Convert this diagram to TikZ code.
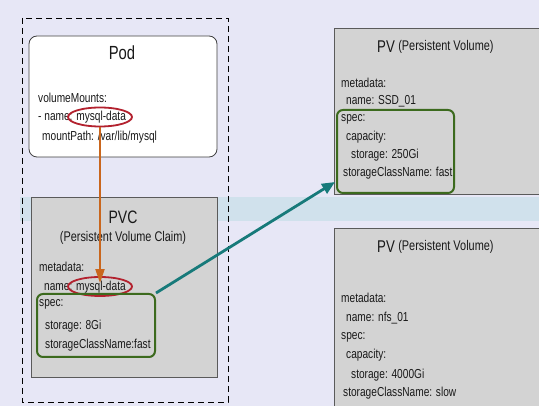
\documentclass[tikz,border=0pt]{standalone}
\usepackage{fontspec}
\setmainfont[FakeStretch=0.78]{Liberation Sans}
\usetikzlibrary{arrows.meta,shapes.geometric}
\definecolor{bgc}{HTML}{E7E7F6}
\definecolor{bandc}{HTML}{D0E1EC}
\definecolor{boxgray}{HTML}{D3D3D3}
\definecolor{boxline}{HTML}{5A5A5A}
\definecolor{orangec}{HTML}{C9661D}
\definecolor{redc}{HTML}{B3212E}
\definecolor{greenc}{HTML}{3C6A1E}
\definecolor{tealc}{HTML}{177A7A}
\tikzset{
  txt/.style={anchor=west,inner sep=0pt,font=\fontsize{13}{15}\selectfont,text=black!90},
  graybox/.style={draw=boxline,fill=boxgray,line width=0.8pt,inner sep=0pt},
  podbox/.style={draw=black!75,fill=white,rounded corners=8pt,line width=0.8pt,inner sep=0pt},
  titlebig/.style={inner sep=0pt,font=\fontsize{19}{22}\selectfont,text=black!90},
  titlesub/.style={inner sep=0pt,font=\fontsize{14}{16}\selectfont,text=black!90},
  redring/.style={draw=redc,ellipse,line width=1.8pt,inner sep=0pt},
  specbox/.style={draw=greenc,rounded corners=6pt,line width=2pt,inner sep=0pt},
  dashframe/.style={draw=black,dash pattern=on 6pt off 4pt,line width=0.8pt}
}
\begin{document}
\begin{tikzpicture}[x=1pt,y=-1pt]
\useasboundingbox (0,0) rectangle (539,406);
\clip (0,0) rectangle (539,406);
\fill[bgc] (0,0) rectangle (539,406);
\fill[bandc] (20,197) rectangle (539,221);
% dashed frame
\draw[dashframe] (22,18) rectangle (228,402);
% Pod
\node[podbox,minimum width=188pt,minimum height=121pt] (pod) at (123,96.5) {};
\node[titlebig] (podtitle) at (122,53) {Pod};
\node[txt] (pod1) at (38,98) {volumeMounts:};
\node[txt] (pod2) at (38,117) {- name: mysql-data};
\node[txt] (pod3) at (42,137) {mountPath: /var/lib/mysql};
\node[redring,minimum width=64pt,minimum height=19pt] (podname) at (100,117) {};
% PVC
\node[graybox,minimum width=186pt,minimum height=180pt] (pvc) at (124,287) {};
\node[titlebig,font=\fontsize{18}{21}\selectfont] (pvctitle) at (123,217) {PVC};
\node[titlesub] (pvcsub) at (123,238) {(Persistent Volume Claim)};
\node[txt] (pvc1) at (39,267) {metadata:};
\node[txt] (pvc2) at (44,287) {name: mysql-data};
\node[txt] (pvc3) at (39,304) {spec:};
\node[txt] (pvc4) at (45,326) {storage: 8Gi};
\node[txt] (pvc5) at (45,345) {storageClassName:fast};
\node[redring,minimum width=64pt,minimum height=19pt] (pvcname) at (100,286.5) {};
\node[specbox,minimum width=118pt,minimum height=63pt] (pvcspec) at (96,325.5) {};
% PV 1
\node[graybox,minimum width=205pt,minimum height=166pt] (pv1) at (436.5,111) {};
\node[titlebig,font=\fontsize{17}{20}\selectfont] (pv1a) at (386,47) {PV};
\node[titlesub,anchor=west] (pv1b) at (pv1a.east) {\ (Persistent Volume)};
\node[txt] (pv11) at (341,83) {metadata:};
\node[txt] (pv12) at (346,101) {name: SSD\_01};
\node[txt] (pv13) at (341,119) {spec:};
\node[txt] (pv14) at (346,137) {capacity:};
\node[txt] (pv15) at (351,155) {storage: 250Gi};
\node[txt] (pv16) at (343,173) {storageClassName: fast};
\node[specbox,minimum width=117pt,minimum height=83pt] (pv1spec) at (395.5,151.5) {};
% PV 2
\node[graybox,minimum width=205pt,minimum height=190pt] (pv2) at (436.5,323) {};
\node[titlebig,font=\fontsize{17}{20}\selectfont] (pv2a) at (386,247) {PV};
\node[titlesub,anchor=west] (pv2b) at (pv2a.east) {\ (Persistent Volume)};
\node[txt] (pv21) at (341,298) {metadata:};
\node[txt] (pv22) at (346,318) {name: nfs\_01};
\node[txt] (pv23) at (341,337) {spec:};
\node[txt] (pv24) at (346,355) {capacity:};
\node[txt] (pv25) at (351,375) {storage: 4000Gi};
\node[txt] (pv26) at (343,393) {storageClassName: slow};
% connectors
\coordinate (tealend) at (335,182);
\draw[orangec,line width=2pt,-{Triangle[length=14pt,width=9pt]}] (podname.south) -- ([yshift=-7pt]pvcname.north);
\draw[tealc,line width=2.8pt,-{Triangle[length=13pt,width=11pt]}] (pvcspec.north east) -- (tealend);
\end{tikzpicture}
\end{document}
